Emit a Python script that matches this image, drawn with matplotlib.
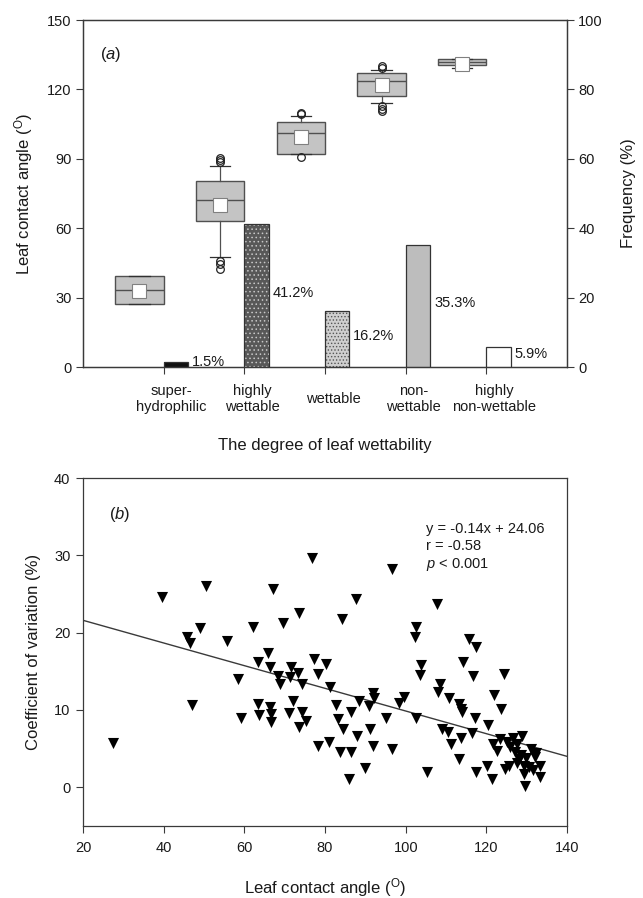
import numpy as np
import matplotlib
matplotlib.use("Agg")
import matplotlib.pyplot as plt

plt.rcParams['font.family'] = ['Liberation Sans', 'DejaVu Sans']
plt.rcParams['mathtext.fontset'] = 'custom'
plt.rcParams['mathtext.rm'] = 'Liberation Sans'
plt.rcParams['mathtext.it'] = 'Liberation Sans:italic'
plt.rcParams['hatch.linewidth'] = 0.6

# ---- panel (a) data ----
categories = ["super-\nhydrophilic", "highly\nwettable", "wettable", "non-\nwettable", "highly\nnon-wettable"]
freq = [1.5, 41.2, 16.2, 35.3, 5.9]
freq_labels = ["1.5%", "41.2%", "16.2%", "35.3%", "5.9%"]

box_q1 = [27.2, 63.3, 92.0, 117.0, 130.7]
box_med = [33.2, 72.0, 101.0, 123.7, 132.0]
box_q3 = [39.4, 80.6, 105.8, 127.0, 133.3]
box_mean = [33.0, 70.0, 99.5, 121.8, 131.0]
whisker_lo = [27.2, 47.7, 92.0, 114.0, 129.2]
whisker_hi = [39.4, 87.0, 108.3, 128.4, 133.3]
fliers = [[], [42.5, 44.5, 46.0, 88.5, 89.5, 90.5], [91.0, 109.3, 110.0],
          [110.5, 111.5, 113.0, 129.3, 130.0], []]

bar_colors = ["#111111", "#585858", "#cfcfcf", "#bdbdbd", "#ffffff"]
hatches = ["", "....", ".....", "", ""]
hatch_colors = ["#111111", "#c8c8c8", "#555555", "#bdbdbd", "#ffffff"]

# ---- panel (b) data ----
angle = [39.5, 50.5, 45.7, 46.5, 49.0, 55.8, 62.1, 67.1, 69.5, 73.5, 76.8, 84.2, 87.6, 96.6,
         107.7, 102.5, 102.2, 115.6, 117.3, 65.9, 63.5, 66.4, 68.3, 58.4, 71.5, 71.2, 73.3,
         77.3, 78.2, 80.3, 103.9, 103.6, 114.1, 116.6, 124.4,
         27.4, 47.1, 59.1, 63.4, 63.6, 66.4, 66.5, 66.7, 68.8, 72.1, 71.1, 74.4, 73.5, 75.4,
         74.4, 78.3, 80.9, 81.2, 82.6, 83.2, 84.5, 83.8, 86.5, 85.9, 86.5, 87.8, 88.5, 90.8,
         91.2, 92.0, 92.1, 92.0, 89.9, 95.1, 96.6, 98.3, 99.5, 102.6, 105.2, 108.4, 108.1,
         109.0, 110.5, 110.7, 111.1, 113.1, 113.7, 114.0, 113.3, 113.7, 116.3, 117.1, 117.3,
         120.4, 120.2, 121.3, 121.9, 123.5, 121.6, 122.6, 123.4, 124.5, 125.0, 125.6, 126.5,
         125.9, 127.0, 127.7, 128.0, 127.5, 128.7, 128.5, 129.4, 129.2, 129.6, 130.5, 131.1,
         131.5, 132.0, 132.4, 133.3, 133.4, 129.8]
cv = [24.6, 26.0, 19.5, 18.7, 20.6, 18.9, 20.7, 25.6, 21.2, 22.5, 29.7, 21.8, 24.3, 28.2,
      23.7, 20.7, 19.4, 19.2, 18.2, 17.4, 16.2, 15.6, 14.4, 14.0, 15.6, 14.3, 14.8,
      16.6, 14.7, 15.9, 15.8, 14.5, 16.2, 14.4, 14.6,
      5.7, 10.7, 9.0, 10.8, 9.4, 10.4, 9.5, 8.5, 13.3, 11.2, 9.6, 9.7, 7.8, 8.6,
      13.3, 5.4, 5.8, 13.0, 10.7, 8.8, 7.6, 4.6, 4.6, 1.1, 9.7, 6.6, 11.1, 10.5,
      7.6, 12.2, 11.6, 5.4, 2.5, 8.9, 5.0, 10.9, 11.7, 8.9, 2.0, 13.3, 12.3,
      7.5, 7.1, 11.5, 5.6, 10.8, 10.1, 9.7, 3.6, 6.4, 7.0, 8.9, 2.0,
      8.0, 2.8, 1.1, 12.0, 10.1, 5.6, 4.7, 6.3, 2.4, 5.9, 2.7, 6.4,
      5.2, 4.6, 5.6, 3.6, 3.2, 6.6, 4.2, 2.8, 1.7, 0.2, 2.6, 5.0,
      2.2, 3.9, 4.5, 2.8, 1.3, 3.8]
fit_x = [20, 140]
fit_y = [21.6, 4.0]

line_col = "#3a3a3a"
text_col = "#1a1a1a"

fig = plt.figure(figsize=(6.43, 8.98), dpi=100)

# ================= panel (a) =================
ax = fig.add_axes([0.129, 0.5913, 0.753, 0.3864])
ax2 = ax.twinx()
pos = np.arange(1, len(categories) + 1)

stats = []
for i in range(len(categories)):
    stats.append(dict(med=box_med[i], q1=box_q1[i], q3=box_q3[i], whislo=whisker_lo[i],
                      whishi=whisker_hi[i], mean=box_mean[i], fliers=fliers[i]))
ax.bxp(stats, positions=pos - 0.3, widths=0.6, patch_artist=True, showmeans=True,
       boxprops=dict(facecolor="#c4c4c4", edgecolor="#505050", linewidth=1.0),
       medianprops=dict(color="#505050", linewidth=1.0),
       whiskerprops=dict(color="#505050", linewidth=0.9),
       capprops=dict(color="#303030", linewidth=0.9), capwidths=0.25,
       meanprops=dict(marker="s", markerfacecolor="white", markeredgecolor="#808080",
                      markersize=9.5, markeredgewidth=0.8),
       flierprops=dict(marker="o", markerfacecolor="none", markeredgecolor="#222222",
                       markersize=5.5, markeredgewidth=0.9),
       manage_ticks=False)

ax2.bar(pos, freq, width=0.3, align="edge", color=bar_colors, edgecolor="none", linewidth=0)
hb = ax2.bar(pos, freq, width=0.3, align="edge", color="none", edgecolor=hatch_colors, linewidth=0)
for p, h in zip(hb, hatches):
    p.set_hatch(h)
ax2.bar(pos, freq, width=0.3, align="edge", color="none", edgecolor="#333333", linewidth=0.9)
for x, f, t in zip(pos, freq, freq_labels):
    ax2.text(x + 0.35, f / 2 + 0.8, t, ha="left", va="center", fontsize=10.5, color=text_col)

ax.set_xlim(0, 6)
ax.set_ylim(0, 150)
ax.set_yticks(np.arange(0, 151, 30))
ax2.set_ylim(0, 100)
ax2.set_yticks(np.arange(0, 101, 20))
ax.set_xticks(pos)
ax.set_xticklabels([])
ax.set_xticks(pos + 0.1, minor=True)
ax.set_xticklabels(categories, minor=True, fontsize=10.5, color=text_col)
ax.tick_params(axis="x", which="minor", length=0, pad=23)
for lbl in ax.get_xticklabels(minor=True):
    lbl.set_va("center")
    lbl.set_multialignment("center")
ax.tick_params(axis="x", which="major", length=5, direction="out", color=line_col)
ax.tick_params(axis="y", length=5, direction="out", labelsize=10.5, color=line_col,
               labelcolor=text_col, pad=3)
ax2.tick_params(axis="y", length=5, direction="out", labelsize=10.5, color=line_col,
                labelcolor=text_col, pad=3)
for a in (ax, ax2):
    for s in a.spines.values():
        s.set_color(line_col)
        s.set_linewidth(0.9)

ax.set_ylabel(r"Leaf contact angle (${}^{\mathrm{O}}$)", fontsize=12, color=text_col)
ax.yaxis.set_label_coords(-0.122, 0.5)
ax.yaxis.label.set_va("center")
ax2.set_ylabel("Frequency (%)", fontsize=12, color=text_col)
ax2.yaxis.set_label_coords(1.126, 0.5)
ax2.yaxis.label.set_va("center")
ax.set_xlabel("The degree of leaf wettability", fontsize=12, color=text_col)
ax.xaxis.set_label_coords(0.5, -0.225)
ax.xaxis.label.set_va("center")
ax.text(0.035, 0.902, r"($\mathit{a}$)", transform=ax.transAxes, fontsize=12,
        va="center", ha="left", color=text_col)

# ================= panel (b) =================
bx = fig.add_axes([0.129, 0.0802, 0.753, 0.3875])
bx.scatter(angle, cv, marker="v", s=8 ** 2, color="black", linewidths=0, zorder=3)
bx.plot(fit_x, fit_y, color=line_col, linewidth=1.0, zorder=2)
bx.set_xlim(20, 140)
bx.set_ylim(-5, 40)
bx.set_xticks(np.arange(20, 141, 20))
bx.set_yticks(np.arange(0, 41, 10))
bx.tick_params(length=5, direction="out", labelsize=10.5, color=line_col,
               labelcolor=text_col, pad=4)
bx.tick_params(axis="x", pad=6)
for s in bx.spines.values():
    s.set_color(line_col)
    s.set_linewidth(0.9)
bx.set_xlabel(r"Leaf contact angle (${}^{\mathrm{O}}$)", fontsize=12, color=text_col)
bx.xaxis.set_label_coords(0.5, -0.178)
bx.xaxis.label.set_va("center")
bx.set_ylabel("Coefficient of variation (%)", fontsize=12, color=text_col)
bx.yaxis.set_label_coords(-0.103, 0.5)
bx.yaxis.label.set_va("center")
bx.text(0.053, 0.894, r"($\mathit{b}$)", transform=bx.transAxes, fontsize=12,
        va="center", ha="left", color=text_col)
bx.text(0.709, 0.874, "y = -0.14x + 24.06\nr = -0.58\n$\\mathit{p}$ < 0.001",
        transform=bx.transAxes, fontsize=10.5, va="top", ha="left", color=text_col,
        linespacing=1.25)

fig.savefig("out.png", dpi=100)
